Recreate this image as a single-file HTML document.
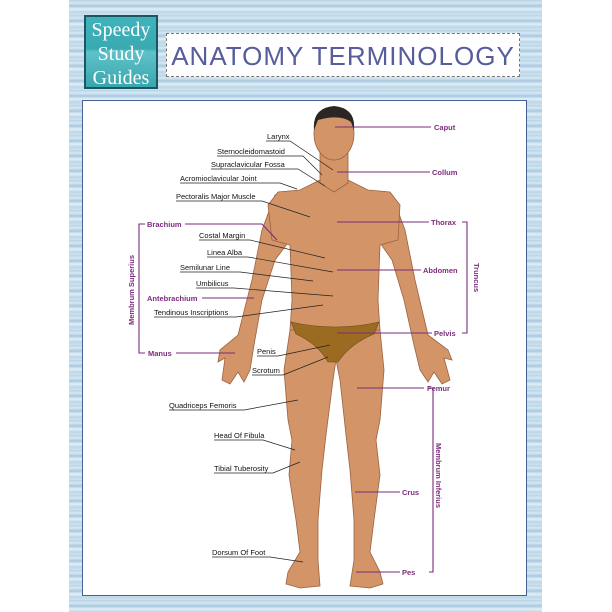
<!DOCTYPE html>
<html><head><meta charset="utf-8"><style>
html,body{margin:0;padding:0;background:#fff}
#w{position:relative;width:612px;height:612px;overflow:hidden;background:#fff}
#bg{position:absolute;left:69px;top:0;width:473px;height:612px;
background:repeating-linear-gradient(180deg,#b7d3e6 0px,#d6e8f3 3px,#a6c8df 6px,#e3eff7 9px,#bcd7e9 12px,#cfe3ef 15px)}
#panel{position:absolute;left:82px;top:100px;width:443px;height:494px;background:#fff;border:1.5px solid #4a5f92}
#logo{position:absolute;left:84px;top:15px;width:74px;height:74px;border:2px solid #1d5660;
background:linear-gradient(180deg,#3fb3bb 0%,#3aa9b2 45%,#5fc2c8 50%,#39a6ae 100%);
font-family:"Liberation Serif",serif;color:#fff;font-size:20px;line-height:24px;text-align:center;padding-top:1px;box-sizing:border-box}
#title{position:absolute;left:166px;top:33px;width:354px;height:44px;background:#fff;border:1px dashed #777;box-sizing:border-box;white-space:nowrap;overflow:hidden;
font-family:"Liberation Sans",sans-serif;color:#565c9c;font-size:26px;line-height:44px;letter-spacing:1px;text-align:center;font-weight:normal}
svg{position:absolute;left:0;top:0}
text{font-family:"Liberation Sans",sans-serif;font-size:7.5px}
.p{fill:#7b2c7b;font-weight:bold}
.k{fill:#111}
</style></head><body><div id="w">
<div id="bg"></div>
<div id="logo">Speedy<br>Study<br>Guides</div>
<div id="title">ANATOMY TERMINOLOGY</div>
<div id="panel"></div>
<svg width="612" height="612" viewBox="0 0 612 612">
<g fill="#d39568" stroke="#9a6240" stroke-width="0.8">
<path d="M290 330 L284 370 L288 420 L292 440 L289 475 L296 520 L300 552 L288 572 L286 584 L300 588 L320 586 L318 560 L318 520 L322 470 L326 435 L333 380 L336 360 L340 380 L346 435 L350 470 L354 520 L354 560 L350 586 L370 588 L383 584 L380 572 L370 552 L374 520 L380 475 L376 440 L380 420 L384 370 L380 330 Z"/>
<path d="M275 195 L262 230 L252 280 L238 335 L220 350 L218 362 L225 358 L222 380 L230 384 L238 372 L244 382 L250 370 L254 345 L262 300 L275 260 L290 240 Z"/>
<path d="M392 195 L405 230 L415 280 L428 335 L448 350 L452 360 L444 358 L450 380 L442 384 L434 372 L428 382 L420 370 L414 345 L404 300 L392 260 L378 240 Z"/>
<path d="M320 180 L300 190 L278 192 L268 205 L272 240 L290 245 L292 300 L290 330 L380 330 L378 300 L380 245 L398 240 L400 205 L390 192 L368 190 L348 180 Z"/>
<path d="M320 150 L320 183 L334 192 L348 183 L348 150 Z"/>
<ellipse cx="334" cy="134" rx="20" ry="26"/>
</g>
<path d="M314 130 Q312 108 334 106 Q356 108 354 130 L351 122 Q340 114 318 120 Z" fill="#2b2624"/>
<path d="M291 322 Q335 332 379 322 L374 334 Q350 344 338 362 L328 362 Q318 344 296 334 Z" fill="#9c6b22" stroke="#6e4a18" stroke-width="0.6"/>
<g stroke="#222" stroke-width="0.7" fill="none">
<path d="M266 141 H290 L333 170"/>
<path d="M217 156 H303 L322 175"/>
<path d="M211 169 H298 L325 186"/>
<path d="M180 183 H280 L297 189"/>
<path d="M176 201 H262 L310 217"/>
<path d="M199 240 H250 L325 258"/>
<path d="M207 257 H248 L333 272"/>
<path d="M180 272 H240 L313 281"/>
<path d="M196 288 H234 L333 296"/>
<path d="M154 317 H236 L323 305"/>
<path d="M257 356 H278 L330 345"/>
<path d="M252 375 H283 L328 357"/>
<path d="M169 410 H244 L298 400"/>
<path d="M214 440 H263 L295 450"/>
<path d="M214 473 H273 L300 462"/>
<path d="M212 557 H270 L303 562"/>
</g>
<g stroke="#7b2c7b" stroke-width="1.1" fill="none">
<path d="M185 224 H262 L277 240"/>
<path d="M202 298 H254"/>
<path d="M176 353 H235"/>
<path d="M335 127 H431"/>
<path d="M337 172 H430"/>
<path d="M337 222 H429"/>
<path d="M337 270 H421"/>
<path d="M337 333 H432"/>
<path d="M357 388 H424"/>
<path d="M355 492 H400"/>
<path d="M356 572 H400"/>
<path d="M462 222 H467 V333 H462"/>
<path d="M429 388 H433 V572 H429"/>
<path d="M145 224 H139 V353 H145"/>
</g>
<text class="k" x="267" y="139">Larynx</text>
<text class="k" x="217" y="154">Sternocleidomastoid</text>
<text class="k" x="211" y="167">Supraclavicular Fossa</text>
<text class="k" x="180" y="181">Acromioclavicular Joint</text>
<text class="k" x="176" y="199">Pectoralis Major Muscle</text>
<text class="p" x="147" y="227">Brachium</text>
<text class="k" x="199" y="238">Costal Margin</text>
<text class="k" x="207" y="255">Linea Alba</text>
<text class="k" x="180" y="270">Semilunar Line</text>
<text class="k" x="196" y="286">Umbilicus</text>
<text class="p" x="147" y="301">Antebrachium</text>
<text class="k" x="154" y="315">Tendinous Inscriptions</text>
<text class="p" x="148" y="356">Manus</text>
<text class="k" x="257" y="354">Penis</text>
<text class="k" x="252" y="373">Scrotum</text>
<text class="k" x="169" y="408">Quadriceps Femoris</text>
<text class="k" x="214" y="438">Head Of Fibula</text>
<text class="k" x="214" y="471">Tibial Tuberosity</text>
<text class="k" x="212" y="555">Dorsum Of Foot</text>
<text class="p" x="434" y="130">Caput</text>
<text class="p" x="432" y="175">Collum</text>
<text class="p" x="431" y="225">Thorax</text>
<text class="p" x="423" y="273">Abdomen</text>
<text class="p" x="434" y="336">Pelvis</text>
<text class="p" x="427" y="391">Femur</text>
<text class="p" x="402" y="495">Crus</text>
<text class="p" x="402" y="575">Pes</text>
<text class="p" transform="translate(474,263) rotate(90)">Truncus</text>
<text class="p" transform="translate(436,443) rotate(90)">Membrum Inferius</text>
<text class="p" transform="translate(134,325) rotate(-90)">Membrum Superius</text>
</svg>
</div></body></html>
